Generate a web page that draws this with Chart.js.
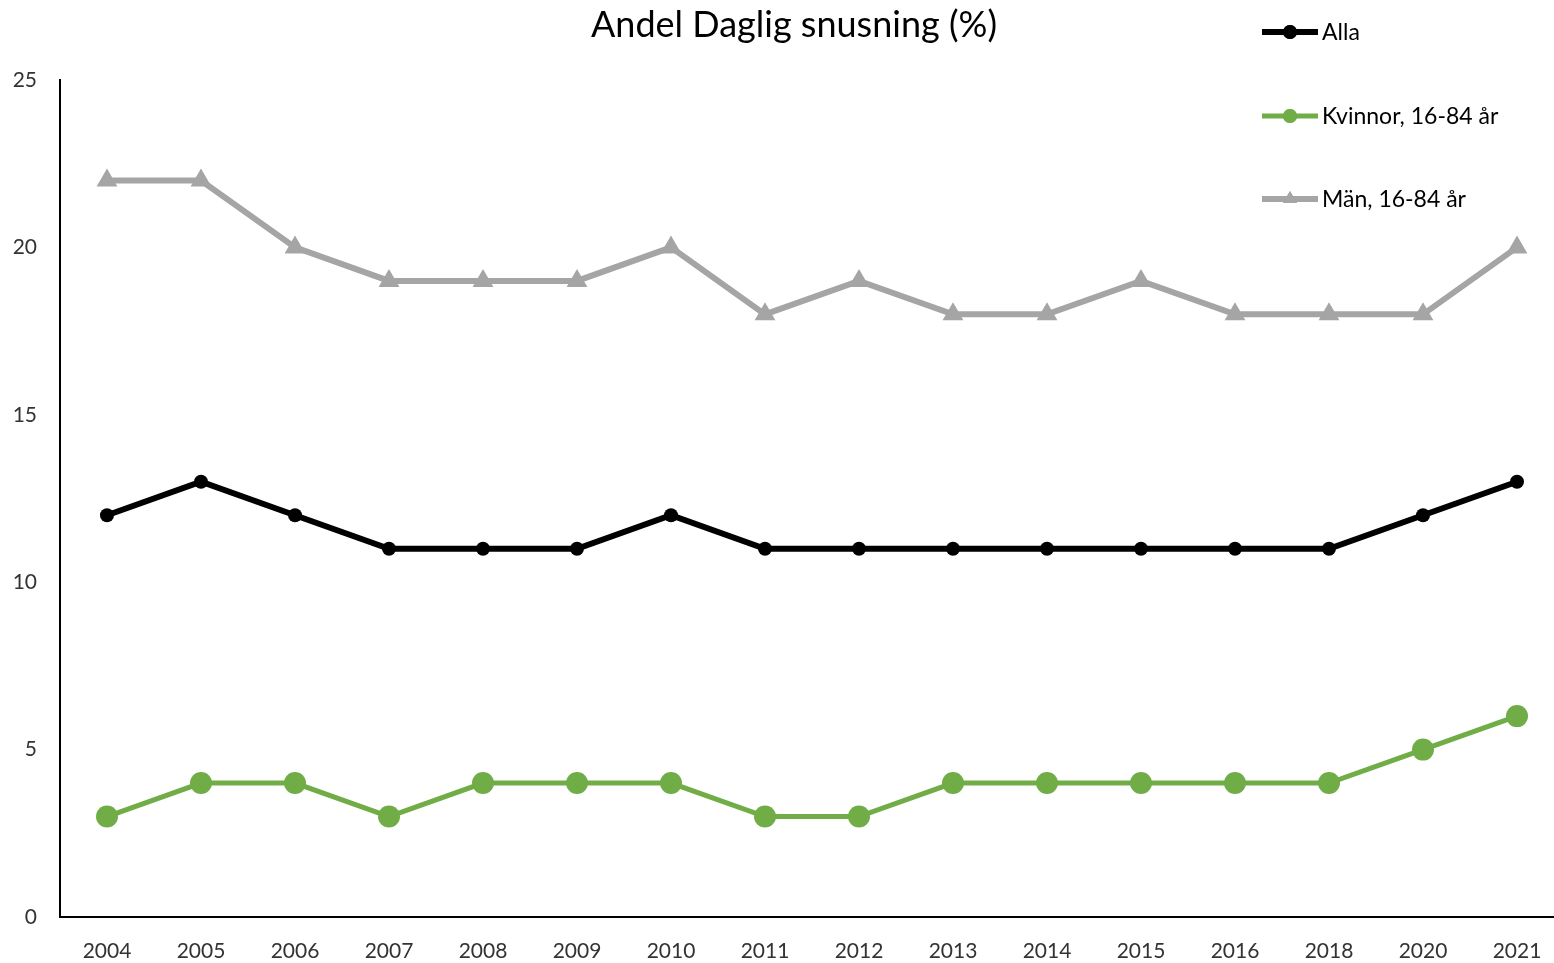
<!DOCTYPE html>
<html>
<head>
<meta charset="utf-8">
<script src="https://cdn.jsdelivr.net/npm/chart.js@4/dist/chart.umd.min.js"></script>
<style>
  html, body { margin: 0; padding: 0; background: #fff; overflow: hidden; }
  #wrap { width: 1576px; height: 963px; }
</style>
</head>
<body>
<div id="wrap"><canvas id="snusChart" width="1576" height="963"></canvas></div>
<script>
const years = ["2004", "2005", "2006", "2007", "2008", "2009", "2010", "2011", "2012", "2013", "2014", "2015", "2016", "2018", "2020", "2021"];
const alla = [12, 13, 12, 11, 11, 11, 12, 11, 11, 11, 11, 11, 11, 11, 12, 13];
const kvinnor = [3, 4, 4, 3, 4, 4, 4, 3, 3, 4, 4, 4, 4, 4, 5, 6];
const man = [22, 22, 20, 19, 19, 19, 20, 18, 19, 18, 18, 19, 18, 18, 18, 20];
const yTicks = [0, 5, 10, 15, 20, 25];

const FONT = "Lato, 'Open Sans', sans-serif";
const titleText = "Andel Daglig snusning (%)";

// title and legend are drawn by hand so they can sit where Excel put them
const decorPlugin = {
  id: "decor",
  afterDraw(chart) {
    const ctx = chart.ctx;
    ctx.save();
    ctx.fillStyle = "#000";
    ctx.font = "36px " + FONT;
    ctx.textAlign = "center";
    ctx.textBaseline = "middle";
    ctx.fillText(titleText, 794, 25);

    const rows = [
      { y: 32, ds: chart.data.datasets[0] },
      { y: 116, ds: chart.data.datasets[1] },
      { y: 199, ds: chart.data.datasets[2] },
    ];
    ctx.font = "23px " + FONT;
    ctx.textAlign = "left";
    rows.forEach((r) => {
      ctx.strokeStyle = r.ds.borderColor;
      ctx.lineWidth = r.ds.borderWidth;
      ctx.beginPath();
      ctx.moveTo(1262, r.y);
      ctx.lineTo(1318, r.y);
      ctx.stroke();
      ctx.fillStyle = r.ds.borderColor;
      Chart.helpers.drawPoint(ctx, {
        pointStyle: r.ds.pointStyle,
        radius: r.ds.legendRadius,
        rotation: 0,
        borderWidth: 0,
      }, 1290, r.y);
      ctx.fill();
      ctx.fillStyle = "#000";
      ctx.fillText(r.ds.label, 1322, r.y + 1);
    });
    ctx.restore();
  },
};

new Chart(document.getElementById("snusChart").getContext("2d"), {
  type: "line",
  data: {
    labels: years,
    datasets: [
      {
        label: "Alla",
        data: alla,
        borderColor: "#000000",
        backgroundColor: "#000000",
        borderWidth: 6,
        pointStyle: "circle",
        pointRadius: 7,
        pointBorderWidth: 0,
        legendRadius: 7,
      },
      {
        label: "Kvinnor, 16-84 år",
        data: kvinnor,
        borderColor: "#70AD47",
        backgroundColor: "#70AD47",
        borderWidth: 5,
        pointStyle: "circle",
        pointRadius: 11,
        pointBorderWidth: 0,
        legendRadius: 7,
      },
      {
        label: "Män, 16-84 år",
        data: man,
        borderColor: "#A5A5A5",
        backgroundColor: "#A5A5A5",
        borderWidth: 6,
        pointStyle: "triangle",
        pointRadius: 12,
        pointBorderWidth: 0,
        legendRadius: 8,
      },
    ],
  },
  options: {
    responsive: false,
    animation: false,
    layout: { padding: { top: 80, right: 6, left: 0, bottom: 0 } },
    plugins: {
      legend: { display: false },
      title: { display: false },
      tooltip: { enabled: false },
    },
    elements: { line: { tension: 0 } },
    scales: {
      x: {
        offset: true,
        grid: { display: false, drawTicks: false },
        border: { display: true, color: "#000", width: 2 },
        ticks: { color: "#333", font: { family: FONT, size: 21 }, padding: 22, autoSkip: false, maxRotation: 0 },
        afterFit(scale) { scale.height = 46; },
      },
      y: {
        min: 0,
        max: 25,
        grid: { display: false, drawTicks: false },
        border: { display: true, color: "#000", width: 2 },
        afterBuildTicks(scale) { scale.ticks = yTicks.map((v) => ({ value: v })); },
        ticks: { color: "#333", font: { family: FONT, size: 21 }, padding: 23 },
        afterFit(scale) { scale.width = 60; },
      },
    },
  },
  plugins: [decorPlugin],
});
</script>
</body>
</html>
